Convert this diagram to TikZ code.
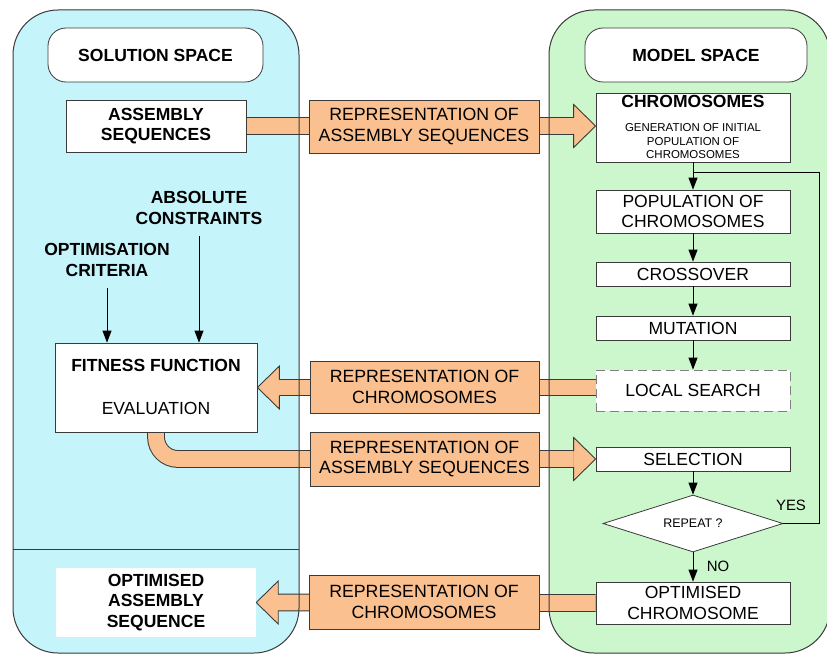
\documentclass[tikz,border=0pt]{standalone}
\usepackage{fontspec}
\setmainfont{Liberation Sans}
\usetikzlibrary{shapes.geometric,arrows.meta,calc}
\pgfdeclarelayer{bg}\pgfdeclarelayer{mid}
\pgfsetlayers{bg,mid,main}
\definecolor{cyanP}{HTML}{C6F4FB}
\definecolor{greenP}{HTML}{CCF6CC}
\definecolor{orF}{HTML}{FAC090}
\definecolor{lineC}{HTML}{3A3A3A}
\newcommand\fBig{\fontsize{17.6}{20.5}\selectfont}
\newcommand\fLab{\fontsize{17.8}{21}\selectfont}
\newcommand\fSmall{\fontsize{11.5}{13.5}\selectfont}
\newcommand\headR[1]{%
  \fill[orF] ($(#1)+(-22,-21.5)$) -- (#1) -- ($(#1)+(-22,21.5)$) -- cycle;
  \draw[lineC,line width=0.9bp,line join=miter] ($(#1)+(-22,-8)$) -- ($(#1)+(-22,-21.5)$) -- (#1) -- ($(#1)+(-22,21.5)$) -- ($(#1)+(-22,8)$);}
\newcommand\headL[1]{%
  \fill[orF] ($(#1)+(22,-21.5)$) -- (#1) -- ($(#1)+(22,21.5)$) -- cycle;
  \draw[lineC,line width=0.9bp,line join=miter] ($(#1)+(22,-8)$) -- ($(#1)+(22,-21.5)$) -- (#1) -- ($(#1)+(22,21.5)$) -- ($(#1)+(22,8)$);}
\begin{document}
\begin{tikzpicture}[x=1bp,y=-1bp,
  box/.style={draw=lineC, fill=white, line width=0.8bp, inner sep=0pt, align=center},
  rbox/.style={box, minimum width=194bp, minimum height=#1, font=\fBig},
  hdr/.style={box, rounded corners=18bp, font=\fBig\bfseries},
  lbl/.style={draw=lineC, fill=orF, line width=0.8bp, inner sep=0pt, align=center, font=\fLab},
  plain/.style={inner sep=0pt, align=center},
  tarr/.style={draw=black, line width=0.8bp, -{Triangle[length=12bp,width=9bp]}},
  shO/.style={draw=lineC, line width=17.8bp},
  shI/.style={draw=orF, line width=15.8bp},
  panel/.style={draw=lineC, line width=1bp, rounded corners=45bp}
]
\useasboundingbox (0,0) rectangle (827,655);
\begin{pgfonlayer}{bg}
  \fill[cyanP, rounded corners=45bp] (13,10) rectangle (299,653);
  \fill[greenP, rounded corners=45bp] (549,10) rectangle (830,653);
\end{pgfonlayer}

% solution space
\node[hdr, minimum width=215bp, minimum height=54bp] (solh) at (155.5,55) {SOLUTION SPACE};
\node[box, minimum width=180bp, minimum height=52bp, font=\fBig\bfseries] (asm) at (156,126) {ASSEMBLY\\SEQUENCES};
\node[plain, font=\fBig\bfseries] (absc) at (199,208) {ABSOLUTE\\CONSTRAINTS};
\node[plain, font=\fBig\bfseries] (optc) at (107,260) {OPTIMISATION\\CRITERIA};
\node[box, minimum width=202bp, minimum height=89bp] (ff) at (156,387.5) {};
\node[plain, font=\fBig\bfseries] (fft) at (156,365) {FITNESS FUNCTION};
\node[plain, font=\fBig] (ffe) at (156,408) {EVALUATION};
\node[plain, fill=white, minimum width=200bp, minimum height=69bp, font=\fBig\bfseries] (optasm) at (156,602.5) {OPTIMISED\\ASSEMBLY\\SEQUENCE};

% model space
\node[hdr, minimum width=222bp, minimum height=54bp] (modh) at (696,55) {MODEL SPACE};
\node[rbox=69bp] (chrom) at (693,127.5) {};
\node[plain, font=\fBig\bfseries] (chromt) at (693,101) {CHROMOSOMES};
\node[plain, font=\fSmall] (chromg) at (693,141.5) {GENERATION OF INITIAL\\POPULATION OF\\CHROMOSOMES};
\node[rbox=43bp] (pop) at (693,211.5) {POPULATION OF\\CHROMOSOMES};
\node[rbox=24bp] (cross) at (693,274) {CROSSOVER};
\node[rbox=24bp] (mut) at (693,328) {MUTATION};
\node[rbox=41bp, draw=gray, dash pattern=on 9bp off 5bp] (local) at (693,390.5) {LOCAL SEARCH};
\node[rbox=24bp] (sel) at (693,459) {SELECTION};
\node[box, diamond, aspect=3.2, minimum width=180bp, minimum height=57bp, font=\fontsize{12.5}{14}\selectfont] (rep) at (693,523.5) {REPEAT ?};
\node[rbox=42bp] (optchr) at (693,603) {OPTIMISED\\CHROMOSOME};
\node[plain, font=\fontsize{15}{17}\selectfont] (yes) at (791,505) {YES};
\node[plain, font=\fontsize{15}{17}\selectfont] (no) at (718,566) {NO};

% labels
\node[lbl, minimum width=230bp, minimum height=53bp] (l1) at (424,126.5) {REPRESENTATION OF\\ASSEMBLY SEQUENCES};
\node[lbl, minimum width=229bp, minimum height=52bp] (l2) at (424.5,387) {REPRESENTATION OF\\CHROMOSOMES};
\node[lbl, minimum width=229bp, minimum height=54bp] (l3) at (424.5,459) {REPRESENTATION OF\\ASSEMBLY SEQUENCES};
\node[lbl, minimum width=230bp, minimum height=54bp] (l4) at (424,602) {REPRESENTATION OF\\CHROMOSOMES};

% thin arrows
\draw[tarr] ([yshift=-11bp]optc.south) -- (optc.south |- ff.north);
\draw[tarr] ([yshift=-11bp]absc.south) -- (absc.south |- ff.north);
\coordinate (loopr) at (819,172);
\coordinate (join) at (chrom.south |- loopr);
\draw[line width=0.8bp] (rep.east) -| (loopr) -- (join);
\draw[tarr] (chrom.south) -- (pop.north);
\draw[tarr] (pop.south) -- (cross.north);
\draw[tarr] (cross.south) -- (mut.north);
\draw[tarr] (mut.south) -- (local.north);
\draw[tarr] (sel.south) -- (rep.north);
\draw[tarr] (rep.south) -- (optchr.north);

% big arrows
\coordinate (t1) at (chrom.west |- asm.east);
\coordinate (t2) at (ff.east);
\coordinate (t3) at (sel.west);
\coordinate (t4) at (optasm.east);
\begin{pgfonlayer}{mid}
  \draw[shO] (asm.east) -- ($(t1)+(-22,0)$);
  \draw[shI] (asm.east) -- ($(t1)+(-22,0)$);
  \headR{t1}
  \draw[shO] (t2 -| local.west) -- ($(t2)+(22,0)$);
  \draw[shI] (t2 -| local.west) -- ($(t2)+(22,0)$);
  \headL{t2}
  \draw[shO, rounded corners=22bp] (ff.south) |- ($(t3)+(-22,0)$);
  \draw[shI, rounded corners=22bp] (ff.south) |- ($(t3)+(-22,0)$);
  \headR{t3}
  \draw[shO] (optchr.west) -- ($(t4)+(22,0)$);
  \draw[shI] (optchr.west) -- ($(t4)+(22,0)$);
  \headL{t4}
  \draw[panel] (13,10) rectangle (299,653);
  \draw[panel] (549,10) rectangle (830,653);
  \draw[lineC, line width=1bp] (13,549) -- (299,549);
\end{pgfonlayer}
\end{tikzpicture}
\end{document}
